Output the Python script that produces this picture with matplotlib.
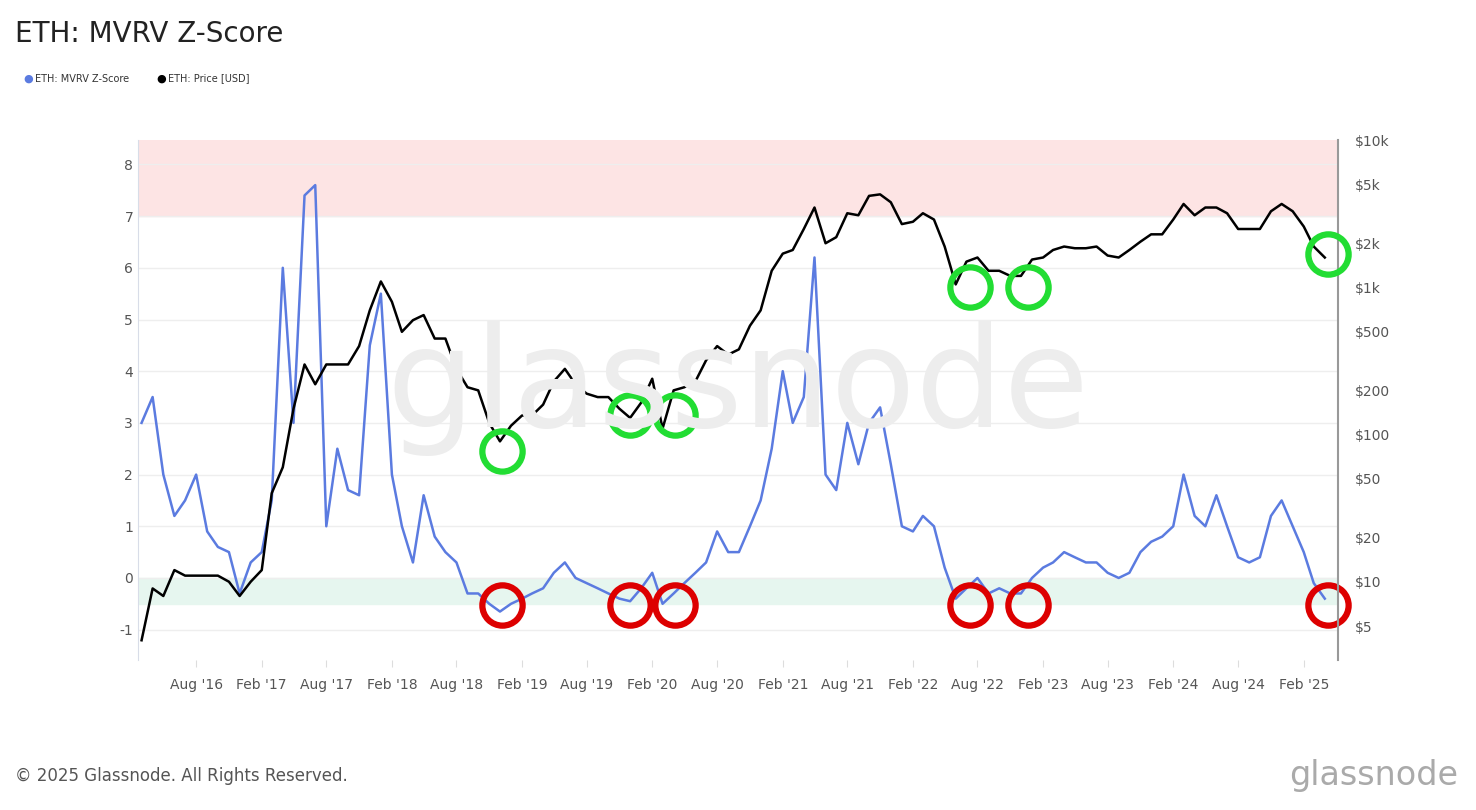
import numpy as np
import pandas as pd
import matplotlib
matplotlib.use("Agg")
import matplotlib.pyplot as plt
import matplotlib.dates as mdates
import matplotlib.ticker as mticker

months = pd.date_range("2016-03-01", "2025-04-01", freq="MS")

zscore = [
    3.0, 3.5, 2.0, 1.2, 1.5, 2.0, 0.9, 0.6, 0.5, -0.3,
    0.3, 0.5, 1.5, 6.0, 3.0, 7.4, 7.6, 1.0, 2.5, 1.7, 1.6, 4.5,
    5.5, 2.0, 1.0, 0.3, 1.6, 0.8, 0.5, 0.3, -0.3, -0.3, -0.5, -0.65,
    -0.5, -0.4, -0.3, -0.2, 0.1, 0.3, 0.0, -0.1, -0.2, -0.3, -0.4, -0.45,
    -0.2, 0.1, -0.5, -0.3, -0.1, 0.1, 0.3, 0.9, 0.5, 0.5, 1.0, 1.5,
    2.5, 4.0, 3.0, 3.5, 6.2, 2.0, 1.7, 3.0, 2.2, 3.0, 3.3, 2.2,
    1.0, 0.9, 1.2, 1.0, 0.2, -0.4, -0.2, 0.0, -0.3, -0.2, -0.3, -0.3,
    0.0, 0.2, 0.3, 0.5, 0.4, 0.3, 0.3, 0.1, 0.0, 0.1, 0.5, 0.7,
    0.8, 1.0, 2.0, 1.2, 1.0, 1.6, 1.0, 0.4, 0.3, 0.4, 1.2, 1.5,
    1.0, 0.5, -0.1, -0.4,
]

price = [
    4, 9, 8, 12, 11, 11, 11, 11, 10, 8,
    10, 12, 40, 60, 150, 300, 220, 300, 300, 300, 400, 700,
    1100, 800, 500, 600, 650, 450, 450, 280, 210, 200, 120, 90,
    115, 135, 135, 160, 230, 280, 220, 190, 180, 180, 150, 130,
    165, 240, 110, 200, 210, 230, 320, 400, 350, 380, 550, 700,
    1300, 1700, 1800, 2500, 3500, 2000, 2200, 3200, 3100, 4200, 4300, 3800,
    2700, 2800, 3200, 2900, 1900, 1050, 1500, 1600, 1300, 1300, 1200, 1200,
    1550, 1600, 1800, 1900, 1850, 1850, 1900, 1650, 1600, 1800, 2050, 2300,
    2300, 2900, 3700, 3100, 3500, 3500, 3200, 2500, 2500, 2500, 3300, 3700,
    3300, 2600, 1900, 1600,
]

# highlighted bottoms
circle_dates = pd.to_datetime(["2018-12-07", "2019-12-01", "2020-04-05",
                               "2022-07-10", "2022-12-20", "2025-04-10"])
circle_prices = [77, 136, 136, 1016, 1016, 1697]
circle_z = [-0.52, -0.52, -0.52, -0.52, -0.52, -0.52]

fig = plt.figure(figsize=(14.76, 8.10), dpi=100)
ax = fig.add_axes([0.0935, 0.185, 0.813, 0.642])
ax2 = ax.twinx()

ax.axhspan(7, 9, color="#fde4e4", zorder=0)
ax.axhspan(-0.5, 0, color="#e6f6ef", zorder=0)
ax.plot(months, zscore, color="#5b7be0", lw=1.8, zorder=3)
ax.set_ylim(-1.59, 8.47)
ax.set_yticks(range(-1, 9))
ax.set_yticklabels([str(v) for v in range(-1, 9)])
ax.grid(axis="y", color="#eeeeee", lw=1)
ax.set_axisbelow(True)

ax2.plot(months, price, color="black", lw=1.8, zorder=4)
ax2.set_yscale("log")
ax2.set_ylim(2.93, 10050)
pticks = [5, 10, 20, 50, 100, 200, 500, 1000, 2000, 5000, 10000]
plabels = ["$5", "$10", "$20", "$50", "$100", "$200", "$500", "$1k", "$2k", "$5k", "$10k"]
ax2.yaxis.set_major_locator(mticker.FixedLocator(pticks))
ax2.yaxis.set_major_formatter(mticker.FixedFormatter(plabels))
ax2.yaxis.set_minor_locator(mticker.NullLocator())

ax2.plot(circle_dates, circle_prices, "o", ms=29, mfc="none", mec="#22dd33", mew=4.5,
         zorder=6, clip_on=False)
ax.plot(circle_dates, circle_z, "o", ms=29, mfc="none", mec="#dd0000", mew=4.5,
        zorder=6, clip_on=False)

ax.set_xlim(pd.Timestamp("2016-02-20"), pd.Timestamp("2025-05-08"))
ticks = pd.date_range("2016-08-01", "2025-02-01", freq="6MS")
ax.set_xticks(ticks)
ax.xaxis.set_major_formatter(mdates.DateFormatter("%b '%y"))

for a in (ax, ax2):
    a.tick_params(colors="#555555", labelsize=10, length=0)
    a.spines["top"].set_visible(False)
ax.tick_params(axis="x", length=5, color="#dddddd", pad=8)
ax.spines["left"].set_color("#d8dde8")
ax.spines["right"].set_visible(False)
ax.spines["bottom"].set_visible(False)
ax2.spines["left"].set_visible(False)
ax2.spines["bottom"].set_visible(False)
ax2.spines["right"].set_color("#999999")
ax2.spines["right"].set_linewidth(1.5)
ax2.tick_params(axis="y", pad=12)

fig.text(0.5, 0.52, "glassnode", fontsize=100, color="#ededed", ha="center", va="center", zorder=0)
fig.text(0.01, 0.975, "ETH: MVRV Z-Score", fontsize=20, color="#222222", va="top")
fig.text(0.016, 0.903, "\u25cf", color="#5b7be0", fontsize=8, va="center")
fig.text(0.024, 0.903, "ETH: MVRV Z-Score", color="#333333", fontsize=7, va="center")
fig.text(0.106, 0.903, "\u25cf", color="black", fontsize=8, va="center")
fig.text(0.114, 0.903, "ETH: Price [USD]", color="#333333", fontsize=7, va="center")
fig.text(0.01, 0.042, "\u00a9 2025 Glassnode. All Rights Reserved.", fontsize=12, color="#555555", va="center")
fig.text(0.988, 0.042, "glassnode", fontsize=24, color="#aaaaaa", ha="right", va="center")

fig.savefig("out.png", dpi=100, facecolor="white")
